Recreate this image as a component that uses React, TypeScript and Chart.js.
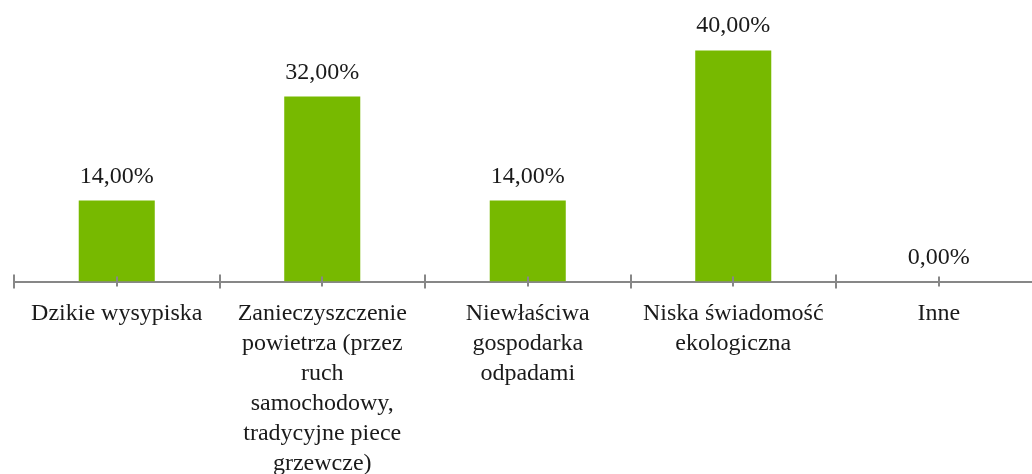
import React, { useEffect, useRef } from "react";
import { Chart, registerables } from "chart.js";

Chart.register(...registerables);

const categories: string[][] = [
  ["Dzikie wysypiska"],
  ["Zanieczyszczenie", "powietrza (przez", "ruch", "samochodowy,", "tradycyjne piece", "grzewcze)"],
  ["Niewłaściwa", "gospodarka", "odpadami"],
  ["Niska świadomość", "ekologiczna"],
  ["Inne"],
];
const values: number[] = [14, 32, 14, 40, 0];
const valueLabels: string[] = ["14,00%", "32,00%", "14,00%", "40,00%", "0,00%"];

const FONT = "'Liberation Serif', 'Times New Roman', serif";
const AXIS_COLOR = "#878787";

const axisTicksPlugin = {
  id: "axisTicks",
  afterDraw(chart: any) {
    const xs = chart.scales.x;
    const ctx = chart.ctx;
    const y = xs.top;
    ctx.save();
    ctx.strokeStyle = AXIS_COLOR;
    ctx.lineWidth = 2;
    const n = categories.length;
    for (let i = 0; i <= n; i++) {
      const px = Math.round(xs.getPixelForValue(i - 0.5));
      ctx.beginPath();
      ctx.moveTo(px, y - 7);
      ctx.lineTo(px, y + 7);
      ctx.stroke();
    }
    for (let i = 0; i < n; i++) {
      const px = Math.round(xs.getPixelForValue(i));
      ctx.beginPath();
      ctx.moveTo(px, y - 5);
      ctx.lineTo(px, y + 5);
      ctx.stroke();
    }
    ctx.restore();
  },
};

const valueLabelPlugin = {
  id: "valueLabels",
  afterDatasetsDraw(chart: any) {
    const ctx = chart.ctx;
    const meta = chart.getDatasetMeta(0);
    ctx.save();
    ctx.fillStyle = "#1a1a1a";
    ctx.font = `24px ${FONT}`;
    ctx.textAlign = "center";
    ctx.textBaseline = "alphabetic";
    meta.data.forEach((bar: any, i: number) => {
      ctx.fillText(valueLabels[i], bar.x, bar.y - 18);
    });
    ctx.restore();
  },
};

export default function App() {
  const ref = useRef<HTMLCanvasElement | null>(null);
  useEffect(() => {
    document.body.style.margin = "0";
    if (!ref.current) return;
    const chart = new Chart(ref.current, {
      type: "bar",
      data: {
        labels: categories,
        datasets: [
          {
            data: values,
            backgroundColor: "#77B900",
            borderWidth: 0,
            barPercentage: 0.37,
            categoryPercentage: 1,
          },
        ],
      },
      options: {
        responsive: false,
        animation: false,
        layout: { padding: { top: 21.5, left: 14, right: 14.5, bottom: 0 } },
        plugins: {
          legend: { display: false },
          tooltip: { enabled: false },
        },
        scales: {
          x: {
            offset: true,
            grid: { display: false },
            border: { display: true, color: AXIS_COLOR, width: 2 },
            ticks: {
              color: "#1a1a1a",
              font: { family: FONT, size: 24, lineHeight: "30px" as any },
              padding: 9,
              maxRotation: 0,
              autoSkip: false,
            },
            afterFit(scale: any) {
              scale.height = 474 - 281.5;
            },
          },
          y: {
            display: false,
            min: 0,
            max: 45,
          },
        },
      },
      plugins: [axisTicksPlugin, valueLabelPlugin],
    });
    return () => chart.destroy();
  }, []);
  return (
    <div style={{ position: "absolute", left: 0, top: 0, width: 1032, height: 474, overflow: "hidden", background: "#fff" }}>
      <canvas ref={ref} width={1056} height={474} style={{ display: "block" }} />
    </div>
  );
}
